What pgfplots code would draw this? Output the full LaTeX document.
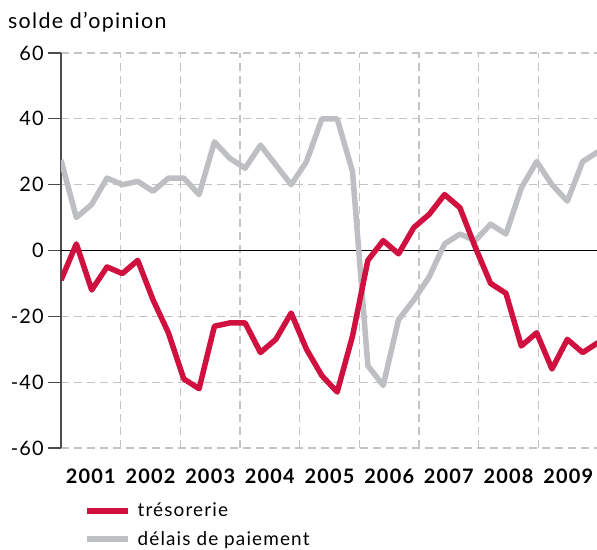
\documentclass[border=0pt]{standalone}
\usepackage{fontspec}
\setmainfont{Lato}[LetterSpace=6]
\usepackage{pgfplots}
\pgfplotsset{compat=1.18}
\definecolor{Treso}{HTML}{D0103F}
\definecolor{Delai}{HTML}{BEBFC2}
\definecolor{GridG}{HTML}{C4C4C4}

% quarterly balances, index 0..35 (2001 Q1 .. 2009 Q4)
\pgfplotstableread{
k treso delai
0 -9 27.5
1 2 10
2 -12 14
3 -5 22
4 -7 20
5 -3 21
6 -15 18
7 -25 22
8 -39 22
9 -42 17
10 -23 33
11 -22 28
12 -22 25
13 -31 32
14 -27 26
15 -19 20
16 -30 27
17 -38 40
18 -43 40
19 -26 24
20 -3 -35
21 3 -41
22 -1 -21
23 7 -15
24 11 -8
25 17 2
26 13 5
27 1 3
28 -10 8
29 -13 5
30 -29 19
31 -25 27
32 -36 20
33 -27 15
34 -31 27
35 -28 30
}\soldes

\begin{document}
\begin{tikzpicture}
\begin{axis}[
    scale only axis,
    width=537bp, height=395bp,
    xmin=0, xmax=35, ymin=-60, ymax=60,
    axis y line=left, axis x line=bottom,
    axis line style={-},
    y axis line style={draw=black!70, line width=1.4bp},
    x axis line style={draw=none},
    tick align=outside,
    ytick={-60,-40,-20,0,20,40,60},
    yticklabels={-60,-40,-20,0,20,40,60},
    major tick length=13bp,
    ytick style={draw=black!70, line width=1.2bp},
    yticklabel style={font=\fontsize{20}{22}\selectfont, inner sep=1bp, xshift=-3bp},
    xtick={1.944,5.833,9.722,13.611,17.5,21.389,25.278,29.167,33.056},
    xticklabels={2001,2002,2003,2004,2005,2006,2007,2008,2009},
    xtick style={draw=none},
    xticklabel style={font=\fontsize{20}{22}\selectfont\bfseries, yshift=-4bp},
    ymajorgrids,
    grid style={GridG, line width=1.2bp, dash pattern=on 8bp off 5bp},
    extra x ticks={3.889,7.778,11.667,15.556,19.444,23.333,27.222,31.111},
    extra x tick labels={},
    extra x tick style={grid=major, tick style={draw=none}},
    extra y ticks={0},
    extra y tick labels={},
    extra y tick style={grid=major, major grid style={black, solid, line width=1bp}, tick style={draw=none}},
    legend style={at={(axis description cs:0,0)}, anchor=north west,
        xshift=20bp, yshift=-51bp, draw=none, fill=none,
        font=\fontsize{19}{21}\selectfont, row sep=9bp},
    legend cell align=left,
    legend image code/.code={\draw[#1] (0bp,0bp) -- (41bp,0bp); \path (46bp,0bp);},
]
\addlegendimage{Treso, line width=5.5bp}
\addlegendentry{trésorerie}
\addlegendimage{Delai, line width=5.5bp}
\addlegendentry{délais de paiement}
\addplot[Delai, line width=5.5bp, line join=round, forget plot] table[x=k, y=delai] {\soldes};
\addplot[Treso, line width=5.5bp, line join=round, forget plot] table[x=k, y=treso] {\soldes};
\end{axis}
\node[anchor=base west, font=\fontsize{21.5}{23}\selectfont, inner sep=0pt] at (-53bp,419bp) {solde d'opinion};
\pgfresetboundingbox
\useasboundingbox (-61bp,-102bp) rectangle (536bp,448bp);
\end{tikzpicture}
\end{document}
